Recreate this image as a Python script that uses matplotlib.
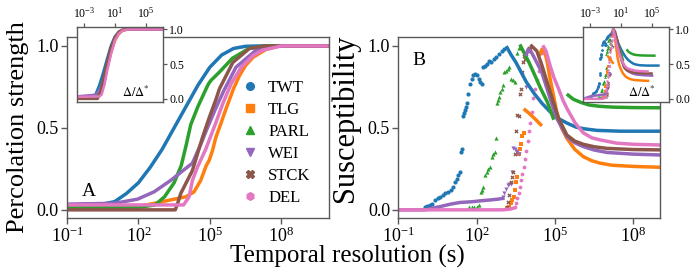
# %%
import numpy as np
import matplotlib
matplotlib.use("Agg")
import matplotlib.pyplot as plt
from matplotlib.lines import Line2D

# %%
# series: names, colours, markers
names = ["TWT", "TLG", "PARL", "WEI", "STCK", "DEL"]
colors = ["#1f77b4", "#ff7f0e", "#2ca02c", "#9467bd", "#8c564b", "#e377c2"]
markers = ["o", "s", "^", "v", "X", "h"]

# panel A: percolation strength, x given as log10(Delta)
a_twt_x = [-1, 0.5, 1.0, 1.5, 2.0, 2.5, 3.0, 3.5, 4.0, 4.5, 5.0, 5.5, 6.0, 6.5, 7.0, 10]
a_twt_y = [0.03, 0.035, 0.05, 0.1, 0.165, 0.26, 0.37, 0.5, 0.63, 0.76, 0.87, 0.945, 0.985, 0.998, 1.0, 1.0]
a_tlg_x = [-1, 2.0, 3.17, 4.0, 4.34, 4.62, 4.85, 4.97, 5.11, 5.25, 5.45, 5.69, 6.0, 6.25, 6.5, 6.81, 7.37, 7.93, 10]
a_tlg_y = [0.02, 0.02, 0.055, 0.08, 0.11, 0.18, 0.27, 0.30, 0.36, 0.44, 0.52, 0.62, 0.74, 0.82, 0.88, 0.93, 0.98, 1.0, 1.0]
a_parl_x = [-1, 2.0, 2.7, 3.1, 3.5, 3.8, 4.0, 4.2, 4.5, 4.85, 4.95, 5.05, 5.4, 5.95, 6.65, 7.3, 10]
a_parl_y = [0.012, 0.015, 0.03, 0.08, 0.165, 0.27, 0.39, 0.52, 0.63, 0.74, 0.77, 0.79, 0.84, 0.925, 0.985, 1.0, 1.0]
a_wei_x = [-1, 1.0, 1.96, 2.66, 3.36, 3.92, 4.27, 4.62, 4.9, 5.25, 5.6, 6.1, 6.95, 7.8, 10]
a_wei_y = [0.035, 0.04, 0.065, 0.11, 0.18, 0.245, 0.285, 0.40, 0.50, 0.62, 0.73, 0.87, 0.975, 1.0, 1.0]
a_stck_x = [-1, 3.55, 3.65, 3.78, 4.06, 4.27, 4.5, 4.69, 4.97, 5.25, 5.41, 5.97, 6.67, 7.3, 10]
a_stck_y = [0.0, 0.0, 0.04, 0.10, 0.18, 0.24, 0.35, 0.44, 0.56, 0.67, 0.74, 0.90, 0.985, 1.0, 1.0]
a_del_x = [-1, 3.9, 4.13, 4.27, 4.48, 4.83, 5.25, 5.55, 5.9, 6.32, 6.8, 7.23, 8.0, 10]
a_del_y = [0.03, 0.03, 0.08, 0.18, 0.26, 0.37, 0.53, 0.65, 0.77, 0.87, 0.94, 0.975, 1.0, 1.0]

# inset A: percolation strength vs log10(Delta/Delta*)
ia_twt_x = [-4, -2.0, -1.5, -1.0, -0.5, 0.0, 0.5, 1.0, 1.5, 2.0, 2.5, 8]
ia_twt_y = [0.03, 0.03, 0.06, 0.2, 0.38, 0.58, 0.77, 0.9, 0.96, 0.99, 1.0, 1.0]
ia_tlg_x = [-4, -1.0, -0.7, -0.4, 0.0, 0.5, 1.0, 1.5, 2.0, 2.7, 8]
ia_tlg_y = [0.02, 0.04, 0.08, 0.2, 0.42, 0.65, 0.83, 0.93, 0.98, 1.0, 1.0]
ia_parl_x = [-4, -1.5, -1.0, -0.5, 0.0, 0.5, 1.0, 1.5, 2.0, 2.5, 8]
ia_parl_y = [0.01, 0.02, 0.08, 0.25, 0.5, 0.72, 0.87, 0.95, 0.99, 1.0, 1.0]
ia_wei_x = [-4, -1.5, -1.0, -0.5, 0.0, 0.5, 1.0, 1.5, 2.0, 2.6, 8]
ia_wei_y = [0.035, 0.06, 0.12, 0.25, 0.45, 0.68, 0.86, 0.95, 0.99, 1.0, 1.0]
ia_stck_x = [-4, -1.2, -0.9, -0.5, 0.0, 0.4, 1.0, 1.5, 2.0, 8]
ia_stck_y = [0.0, 0.0, 0.08, 0.28, 0.52, 0.71, 0.89, 0.97, 1.0, 1.0]
ia_del_x = [-4, -1.0, -0.7, -0.3, 0.0, 0.5, 1.0, 1.5, 2.0, 2.6, 8]
ia_del_y = [0.03, 0.035, 0.06, 0.22, 0.4, 0.64, 0.84, 0.94, 0.985, 1.0, 1.0]

# panel B: susceptibility, scattered rising points + dense decaying part
b_twt_px = [0.0, 0.1, 0.2, 0.3, 0.4, 0.5, 0.6, 0.7, 0.8, 0.9, 1.0, 1.1, 1.17, 1.24, 1.3, 1.36, 1.4, 1.42, 1.47, 1.5,
            1.55, 1.6, 1.63, 1.67, 1.74, 1.8, 1.86, 1.93, 2.0, 2.07, 2.14, 2.2, 2.25, 2.32, 2.4, 2.47, 2.55, 2.65,
            2.75, 2.85, 2.95, 3.05]
b_twt_py = [0.02, 0.025, 0.03, 0.035, 0.06, 0.07, 0.08, 0.09, 0.1, 0.11, 0.12, 0.14, 0.17, 0.19, 0.21, 0.23, 0.35,
            0.37, 0.57, 0.59, 0.61, 0.63, 0.65, 0.71, 0.77, 0.8, 0.82, 0.83, 0.82, 0.8, 0.78, 0.77, 0.87, 0.88, 0.89,
            0.91, 0.9, 0.92, 0.93, 0.95, 0.97, 0.98]
b_twt_lx = [3.16, 3.3, 3.5, 3.7, 3.9, 4.2, 4.5, 4.8, 5.1, 5.45, 5.8, 6.1, 6.6, 7.5, 9.0]
b_twt_ly = [0.99, 0.95, 0.9, 0.84, 0.78, 0.71, 0.65, 0.60, 0.56, 0.53, 0.505, 0.495, 0.485, 0.48, 0.48]

b_tlg_px = [3.15, 3.22, 3.3, 3.36, 3.42, 3.46, 3.5, 3.55, 3.6, 3.64, 3.68, 3.74, 3.8]
b_tlg_py = [0.01, 0.02, 0.04, 0.06, 0.08, 0.12, 0.17, 0.2, 0.34, 0.37, 0.4, 0.45, 0.47]
b_tlg_sx = [3.85, 4.0, 4.2, 4.45]
b_tlg_sy = [0.61, 0.59, 0.56, 0.52]
b_tlg_lx = [4.42, 4.5, 4.6, 4.7, 4.81, 4.95, 5.06, 5.25, 5.45, 5.75, 6.08, 6.4, 6.72, 7.2, 8.0, 9.0]
b_tlg_ly = [0.95, 0.98, 0.97, 0.9, 0.80, 0.69, 0.6, 0.5, 0.437, 0.37, 0.325, 0.30, 0.285, 0.272, 0.265, 0.26]

b_parl_px = [1.7, 1.8, 1.9, 2.0, 2.1, 2.15, 2.2, 2.25, 2.32, 2.38, 2.44, 2.5, 2.58, 2.64, 2.7, 2.74, 2.78, 2.82,
             2.86, 2.9, 2.95, 3.0, 3.06, 3.12, 3.18, 3.25, 3.32, 3.4, 3.47, 3.54, 3.6]
b_parl_py = [0.02, 0.02, 0.02, 0.02, 0.03, 0.11, 0.12, 0.14, 0.21, 0.23, 0.25, 0.26, 0.32, 0.34, 0.35, 0.44, 0.65,
             0.67, 0.69, 0.72, 0.74, 0.76, 0.84, 0.85, 0.86, 0.87, 0.80, 0.79, 0.78, 0.96, 0.99]
b_parl_lx = [3.68, 4.0, 4.2, 4.45, 4.7, 4.93]
b_parl_ly = [1.0, 0.9, 0.83, 0.74, 0.66, 0.56]
b_parl_tx = [5.5, 5.7, 6.0, 6.3, 6.7, 7.2, 8.0, 9.0]
b_parl_ty = [0.70, 0.675, 0.655, 0.64, 0.632, 0.627, 0.624, 0.623]

b_wei_bx = [-1, 0.0, 0.6, 1.0, 1.36, 1.86, 2.13, 2.5, 2.8, 3.0]
b_wei_by = [0.0, 0.0, 0.02, 0.035, 0.045, 0.05, 0.055, 0.06, 0.065, 0.07]
b_wei_px = [3.0, 3.06, 3.12, 3.18, 3.24, 3.3, 3.35, 3.4, 3.45, 3.5, 3.55, 3.62, 3.9]
b_wei_py = [0.08, 0.1, 0.13, 0.15, 0.155, 0.16, 0.23, 0.38, 0.37, 0.36, 0.35, 0.34, 0.75]
b_wei_lx = [3.9, 3.97, 4.1, 4.2, 4.49, 4.81, 5.06, 5.45, 5.75, 6.08, 6.5, 7.0, 8.0, 9.0]
b_wei_ly = [0.95, 0.98, 0.96, 0.93, 0.84, 0.68, 0.56, 0.447, 0.41, 0.386, 0.365, 0.35, 0.34, 0.335]

b_stck_px = [3.15, 3.2, 3.25, 3.3, 3.35, 3.4, 3.45, 3.5, 3.55, 3.6, 3.64, 3.68, 3.72, 3.76, 3.8, 3.85, 3.9, 3.95,
             4.0, 4.05]
b_stck_py = [0.02, 0.05, 0.09, 0.17, 0.2, 0.23, 0.34, 0.48, 0.58, 0.57, 0.71, 0.74, 0.84, 0.9, 0.94, 0.92, 0.95,
             0.97, 0.99, 0.98]
b_stck_lx = [4.1, 4.3, 4.5, 4.81, 5.13, 5.45, 5.75, 6.08, 6.5, 7.0, 8.0, 9.0]
b_stck_ly = [1.0, 0.97, 0.88, 0.72, 0.56, 0.457, 0.42, 0.40, 0.385, 0.375, 0.368, 0.366]

b_del_bx = [-1, 3.0, 3.3, 3.4]
b_del_by = [0.0, 0.0, 0.005, 0.01]
b_del_px = [3.45, 3.5, 3.55, 3.6, 3.65, 3.7, 3.75, 3.8, 3.85, 3.9, 3.95, 4.0, 4.05, 4.1, 4.16, 4.23, 4.3, 4.37,
            4.43, 4.5]
b_del_py = [0.02, 0.04, 0.07, 0.1, 0.14, 0.18, 0.22, 0.26, 0.31, 0.36, 0.42, 0.48, 0.53, 0.6, 0.68, 0.74, 0.79,
            0.85, 0.91, 0.96]
b_del_lx = [4.56, 4.65, 4.81, 4.95, 5.13, 5.3, 5.45, 5.77, 6.08, 6.4, 6.72, 7.36, 8.0, 9.0]
b_del_ly = [0.995, 0.97, 0.88, 0.81, 0.74, 0.67, 0.62, 0.53, 0.47, 0.44, 0.427, 0.407, 0.4, 0.396]

# log10 of Delta* (position of the susceptibility peak) for the inset of B
log_delta_star = [3.16, 4.5, 3.68, 3.97, 4.05, 4.56]

# %%
plt.rcParams.update({
    "font.family": "serif",
    "font.serif": ["Liberation Serif", "DejaVu Serif"],
    "mathtext.fontset": "stix",
    "axes.edgecolor": "0.35",
    "xtick.color": "0.35",
    "ytick.color": "0.35",
    "xtick.labelcolor": "black",
    "ytick.labelcolor": "black",
    "axes.linewidth": 1.0,
})

lwd = 2.5
lwd_in = 1.8
fs_tick = 13
fs_in = 8.5

fig = plt.figure(figsize=(6.98, 2.76), dpi=100)
ax_a = fig.add_axes([0.096, 0.210, 0.375, 0.656])
ax_b = fig.add_axes([0.5708, 0.210, 0.3748, 0.656])
in_a = fig.add_axes([0.1099, 0.6304, 0.1236, 0.2728])
in_b = fig.add_axes([0.8352, 0.6304, 0.1232, 0.2728])

a_data = [(a_twt_x, a_twt_y), (a_tlg_x, a_tlg_y), (a_parl_x, a_parl_y),
          (a_wei_x, a_wei_y), (a_stck_x, a_stck_y), (a_del_x, a_del_y)]
ia_data = [(ia_twt_x, ia_twt_y), (ia_tlg_x, ia_tlg_y), (ia_parl_x, ia_parl_y),
           (ia_wei_x, ia_wei_y), (ia_stck_x, ia_stck_y), (ia_del_x, ia_del_y)]

for i, (x, y) in enumerate(a_data):
    ax_a.plot(10.0 ** np.array(x), y, c=colors[i], lw=lwd, solid_capstyle="butt")
for i, (x, y) in enumerate(ia_data):
    in_a.plot(10.0 ** np.array(x), y, c=colors[i], lw=lwd_in)

# panel B pieces per series: (points, lines)
b_points = [(b_twt_px, b_twt_py), (b_tlg_px, b_tlg_py), (b_parl_px, b_parl_py),
            (b_wei_px, b_wei_py), (b_stck_px, b_stck_py), (b_del_px, b_del_py)]
b_lines = [[(b_twt_lx, b_twt_ly)],
           [(b_tlg_sx, b_tlg_sy), (b_tlg_lx, b_tlg_ly)],
           [(b_parl_lx, b_parl_ly), (b_parl_tx, b_parl_ty)],
           [(b_wei_bx, b_wei_by), (b_wei_lx, b_wei_ly)],
           [(b_stck_lx, b_stck_ly)],
           [(b_del_bx, b_del_by), (b_del_lx, b_del_ly)]]

for i in range(len(names)):
    shift = 10.0 ** log_delta_star[i]
    for x, y in b_lines[i]:
        xx = 10.0 ** np.array(x)
        ax_b.plot(xx, y, c=colors[i], lw=lwd)
        in_b.plot(xx / shift, y, c=colors[i], lw=lwd_in)
    px = 10.0 ** np.array(b_points[i][0])
    ax_b.scatter(px, b_points[i][1], c=colors[i], marker=markers[i], s=9, lw=0)
    in_b.scatter(px / shift, b_points[i][1], c=colors[i], marker=markers[i], s=4, lw=0)

# %%
for ax in (ax_a, ax_b):
    ax.set_xscale("log")
    ax.set_ylim(-0.05, 1.055)
    ax.set_xticks([1e-1, 1e2, 1e5, 1e8])
    ax.xaxis.set_minor_locator(matplotlib.ticker.NullLocator())
    ax.set_yticks([0.0, 0.5, 1.0])
    ax.tick_params(labelsize=fs_tick, length=4, width=1.0, pad=2)
ax_a.set_xlim(1e-1, 1e10)
ax_b.set_xlim(1e-1, 10 ** 9.02)

for ax in (in_a, in_b):
    ax.set_xscale("log")
    ax.set_xlim(10 ** -3.9, 10 ** 7.2)
    ax.set_ylim(-0.045, 1.04)
    ax.set_xticks([1e-3, 1e1, 1e5])
    ax.xaxis.set_minor_locator(matplotlib.ticker.NullLocator())
    ax.set_yticks([0.0, 0.5, 1.0])
    ax.xaxis.tick_top()
    ax.yaxis.tick_right()
    ax.tick_params(labelsize=fs_in, length=3, width=0.9, pad=1.5)
    ax.text(0.68, 0.13, r"$\Delta/\Delta^{*}$", transform=ax.transAxes,
            ha="center", va="center", fontsize=fs_in + 0.5)

ax_a.set_ylabel("Percolation strength", fontsize=19)
ax_b.set_ylabel("Susceptibility", fontsize=22)
ax_a.yaxis.set_label_coords(-0.145, 0.5)
ax_b.yaxis.set_label_coords(-0.148, 0.55)
fig.text(0.497, 0.047, "Temporal resolution (s)", ha="center", va="baseline", fontsize=18)

ax_a.text(0.055, 0.12, "A", transform=ax_a.transAxes, fontsize=14)
ax_b.text(0.052, 0.845, "B", transform=ax_b.transAxes, fontsize=14)

handles = [Line2D([], [], ls="none", marker=markers[i], color=colors[i], ms=5.5) for i in range(len(names))]
ax_a.legend(handles, names, loc="upper left", bbox_to_anchor=(0.635, 0.80), frameon=False,
            fontsize=12, labelspacing=0.36, handletextpad=0.5, handlelength=1.2, borderaxespad=0)

plt.savefig("out.png", dpi=100)
